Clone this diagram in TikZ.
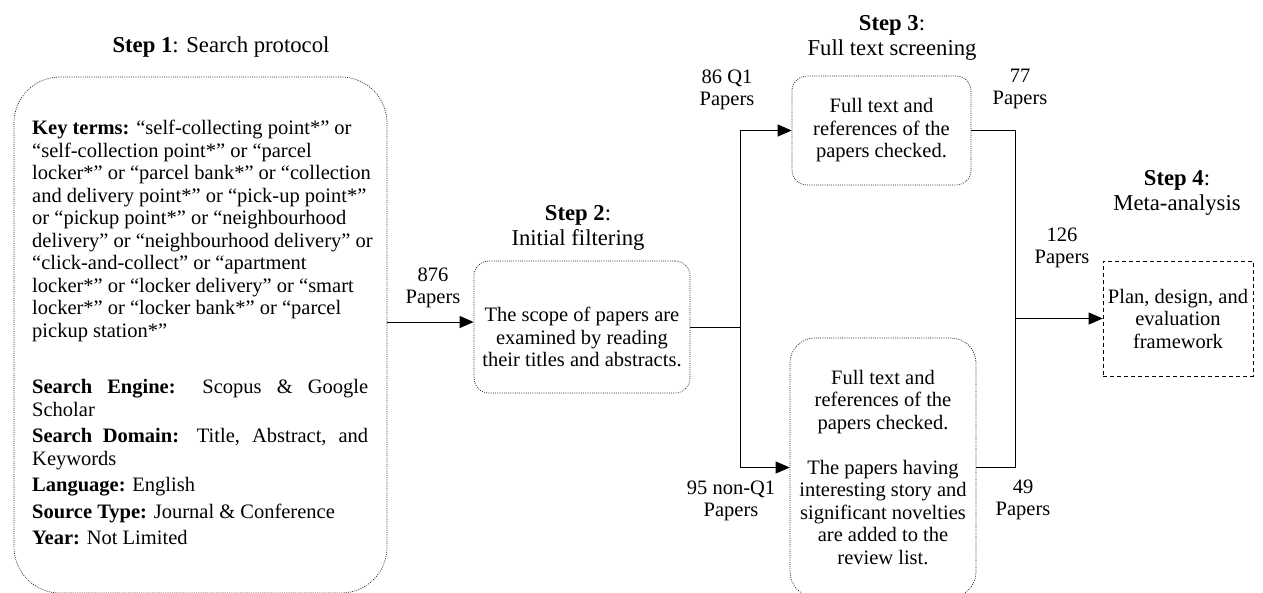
\documentclass[tikz,border=0pt]{standalone}
\usepackage{fontspec}
\setmainfont{Liberation Serif}
\usetikzlibrary{arrows.meta}
\begin{document}
\begin{tikzpicture}[x=1pt,y=-1pt,
    font=\fontsize{20.5}{22.5}\selectfont,
    dotbox/.style={draw=black!85,line width=0.7pt,dash pattern=on 1pt off 1.2pt},
    plain/.style={align=center,inner sep=0pt},
    steptitle/.style={align=center,inner sep=0pt,font=\fontsize{22.7}{25.5}\selectfont},
    arr/.style={-{Triangle[length=14pt,width=12pt]}}]
  \useasboundingbox (0,0) rectangle (1263,592);
  \draw
    (221,47) node[steptitle] (s1) {\textbf{Step 1}: Search protocol}
    (578,228) node[steptitle] (s2) {\textbf{Step 2}:\\Initial filtering}
    (892,38) node[steptitle] (s3) {\textbf{Step 3}:\\Full text screening}
    (1177,193) node[steptitle] (s4) {\textbf{Step 4}:\\Meta-analysis};
  \draw
    (200.5,335) node[dotbox,rounded corners=46pt,minimum width=373pt,minimum height=516pt] (box1) {}
    (32,120) node[anchor=north west,inner sep=0pt,text width=336pt,align=justify] (terms) {%
      \setlength{\parskip}{4pt}%
      {\raggedright\hsize=350pt\textbf{Key terms:} “self-collecting point*” or\\
      “self-collection point*” or “parcel\\
      locker*” or “parcel bank*” or “collection\\
      and delivery point*” or “pick-up point*”\\
      or “pickup point*” or “neighbourhood\\
      delivery” or “neighbourhood delivery” or\\
      “click-and-collect” or “apartment\\
      locker*” or “locker delivery” or “smart\\
      locker*” or “locker bank*” or “parcel\\
      pickup station*”\par}
      \vspace{30pt}
      \textbf{Search Engine:} Scopus \& Google\linebreak Scholar\par
      \textbf{Search Domain:} Title, Abstract, and\linebreak Keywords\par
      \textbf{Language:} English\par
      \textbf{Source Type:} Journal \& Conference\par
      \textbf{Year:} Not Limited\par}
    (582,327) node[dotbox,rounded corners=15pt,minimum width=216pt,minimum height=132pt] (box2) {}
    (582,337) node[plain] (scope) {The scope of papers are\\examined by reading\\their titles and abstracts.}
    (881.5,130.5) node[dotbox,rounded corners=15pt,minimum width=179pt,minimum height=109pt,align=center] (box3)
      {Full text and\\references of the\\papers checked.}
    (883,467.5) node[dotbox,rounded corners=25pt,minimum width=186pt,minimum height=259pt,align=center] (box4)
      {Full text and\\references of the\\papers checked.\\[22.5pt]The papers having\\interesting story and\\significant novelties\\are added to the\\review list.}
    (1178,318.5) node[draw,line width=0.7pt,dash pattern=on 4pt off 3pt,minimum width=150pt,minimum height=115pt,align=center] (box5)
      {Plan, design, and\\evaluation\\framework};
  \draw
    (433,288) node[plain] (p876) {876\\Papers}
    (727,90) node[plain] (pq1) {86 Q1\\Papers}
    (731,501) node[plain] (pnq1) {95 non-Q1\\Papers}
    (1020,89) node[plain] (p77) {77\\Papers}
    (1023,500) node[plain] (p49) {49\\Papers}
    (1062,248) node[plain] (p126) {126\\Papers};
  \coordinate (split) at (740,327);
  \coordinate (merge) at (1015,318.5);
  \begin{scope}[line width=0.9pt]
    \draw[arr] (box1.east |- 0,322) -- (box2.west |- 0,322);
    \draw (box2.east) -- (split);
    \draw[arr] (split) |- (box3.west);
    \draw[arr] (split) |- (box4.west);
    \draw (box3.east) -| (merge);
    \draw (box4.east) -| (merge);
    \draw[arr] (merge) -- (box5.west);
  \end{scope}
\end{tikzpicture}
\end{document}
